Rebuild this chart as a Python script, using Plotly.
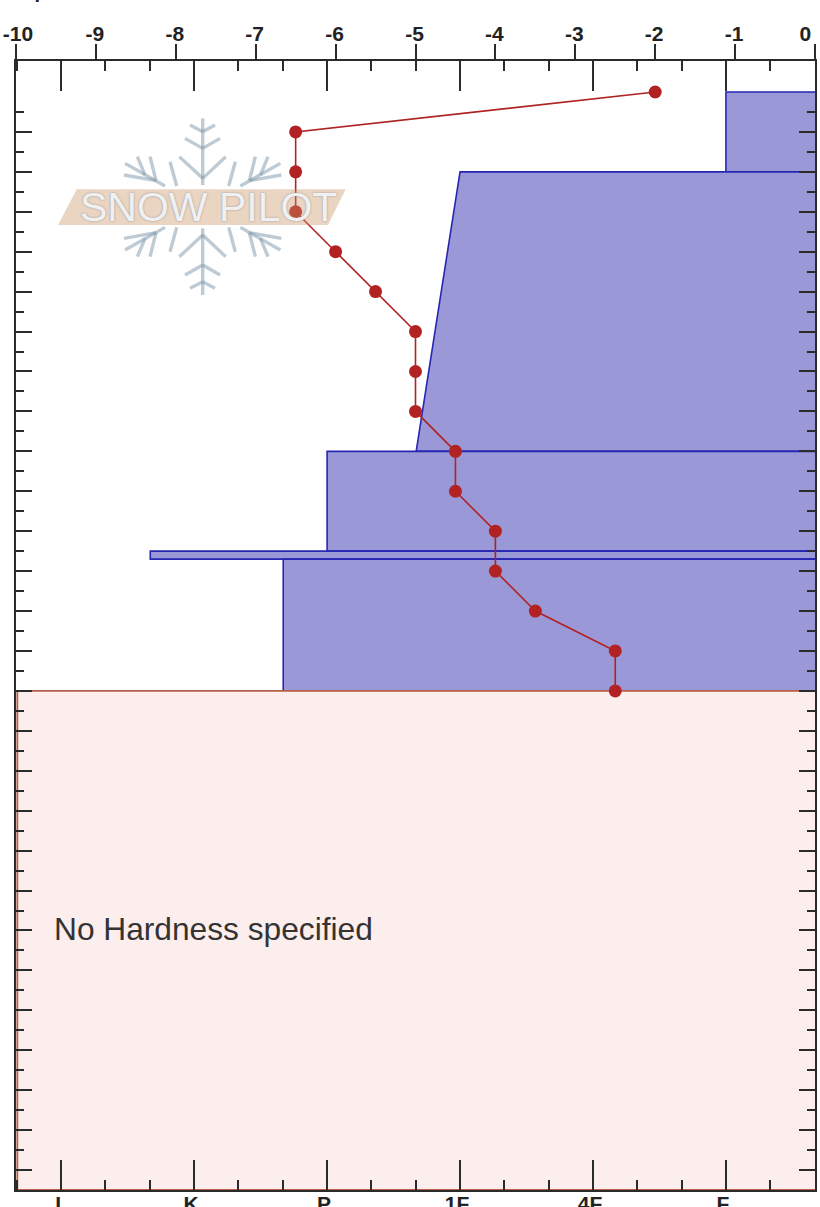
import plotly.graph_objects as go

# ---- data ----
temp_depth = [0, 10, 20, 30, 40, 50, 60, 70, 80, 90, 100, 110, 120, 130, 140, 150]
temp_value = [-2, -6.5, -6.5, -6.5, -6, -5.5, -5, -5, -5, -4.5, -4.5, -4, -4, -3.5, -2.5, -2.5]

layer_top = [0, 20, 90, 115, 117]
layer_bottom = [20, 90, 115, 117, 150]
layer_hard_top = [1.0, 3.0, 4.0, 5.33, 4.33]
layer_hard_bottom = [1.0, 3.33, 4.0, 5.33, 4.33]

hardness_vals = [1, 2, 3, 4, 5, 6]
hardness_text = ["F", "4F", "1F", "P", "K", "I"]
hardness_minor = [0.33, 0.67, 1.33, 1.67, 2.33, 2.67, 3.33, 3.67, 4.33, 4.67, 5.33, 5.67, 6.33]
temp_ticks = [-10, -9, -8, -7, -6, -5, -4, -3, -2, -1, 0]
temp_text = ["\u00a0-10", "-9", "-8", "-7", "-6", "-5", "-4", "-3", "-2", "-1", "0\u00a0\u00a0\u00a0"]
depth_major = [10 * i for i in range(1, 28)]
depth_minor = [5 + 10 * i for i in range(0, 27)]

unknown_top, unknown_bottom = 150, 275
unknown_left, unknown_right = 6.33, 0.30
note = "No Hardness specified"

W, H = 820, 1207
L, R, T, B = 16, 815, 61, 1190
def px(x): return (x - L) / (R - L)
def py(y): return (B - y) / (B - T)

FILL = "#9A98D6"; EDGE = "#2626B4"; RED = "#B22222"; AXIS = "#2b2b2b"
FONT = "Liberation Sans"

fig = go.Figure()

for t, b, a, c in zip(layer_top, layer_bottom, layer_hard_top, layer_hard_bottom):
    fig.add_trace(go.Scatter(
        x=[unknown_right, a, c, unknown_right, unknown_right],
        y=[t, t, b, b, t], xaxis="x", yaxis="y", mode="lines",
        fill="toself", fillcolor=FILL, line=dict(color=EDGE, width=1.6),
        hoverinfo="skip", showlegend=False))

fig.add_trace(go.Scatter(
    x=[unknown_right, unknown_left, unknown_left, unknown_right, unknown_right],
    y=[unknown_top, unknown_top, unknown_bottom, unknown_bottom, unknown_top],
    xaxis="x", yaxis="y", mode="lines", fill="toself", fillcolor="#FDEEEE",
    line=dict(color="#B5604A", width=1.8), hoverinfo="skip", showlegend=False))

fig.add_trace(go.Scatter(
    x=temp_value, y=temp_depth, xaxis="x2", yaxis="y", mode="lines+markers",
    line=dict(color=RED, width=1.6), marker=dict(color=RED, size=13),
    hoverinfo="skip", showlegend=False))

# ---- watermark logo (decoration, page pixels) ----
CX, CY = 202.7, 206.7
def zx(v): return (v - 458) / 3
def zy(v): return (v - 290) / 3
upper = [
    (458, 225, 458, 25), (458, 205, 388, 140), (458, 205, 527, 140),
    (458, 115, 405, 85), (458, 115, 510, 85), (458, 65, 420, 45), (458, 65, 495, 45),
]
side = [
    (345, 228, 225, 160), (318, 212, 300, 140), (285, 195, 262, 140),
    (318, 212, 222, 195), (360, 155, 380, 228),
]
segs = []
for x0, y0, x1, y1 in upper:
    for sy in (1, -1):
        segs.append((zx(x0), sy * zy(y0), zx(x1), sy * zy(y1)))
for x0, y0, x1, y1 in side:
    for sx in (1, -1):
        for sy in (1, -1):
            segs.append((sx * zx(x0), sy * zy(y0), sx * zx(x1), sy * zy(y1)))
shapes = []
for x0, y0, x1, y1 in segs:
    shapes.append(dict(type="line", xref="paper", yref="paper", layer="above",
                       x0=px(CX + x0), y0=py(CY + y0), x1=px(CX + x1), y1=py(CY + y1),
                       line=dict(color="rgba(130,155,172,0.52)", width=3.4)))
band = [(76.7, 189.3), (345.7, 189.3), (328, 225), (58, 225)]
path = "M " + " L ".join(f"{px(a):.5f} {py(b):.5f}" for a, b in band) + " Z"
shapes.append(dict(type="path", xref="paper", yref="paper", layer="above", path=path,
                   fillcolor="rgba(202,147,102,0.4)", line=dict(width=0)))

annotations = [
    dict(text=note, xref="x2", yref="y", x=-9.55, y=209.6, xanchor="left", yanchor="middle",
         showarrow=False, font=dict(family=FONT, size=31.7, color="#333333")),
    dict(text="SNOW PILOT", xref="paper", yref="paper", x=px(208.5), y=py(207), xanchor="center",
         yanchor="middle", showarrow=False,
         font=dict(family=FONT, size=41, color="rgba(248,250,252,0.92)", shadow="0 0 2px #8a8a8a")),
    dict(text="Depth", xref="paper", yref="paper", x=px(8), y=py(3), xanchor="left", yanchor="bottom",
         showarrow=False, borderpad=0, font=dict(family=FONT, size=20, color="#222222", weight=700)),
]

common = dict(showline=True, linecolor=AXIS, linewidth=2, showgrid=False, zeroline=False,
              automargin=False, ticklabeloverflow="allow")
fig.update_layout(
    template=None,
    width=W, height=H, margin=dict(l=L, r=W - R, t=T, b=H - B, pad=0, autoexpand=False),
    paper_bgcolor="white", plot_bgcolor="white", showlegend=False,
    shapes=shapes, annotations=annotations,
    xaxis=dict(range=[6.34, 0.33], side="bottom", anchor="y", mirror="ticks",
               tickmode="array", tickvals=hardness_vals, ticktext=hardness_text,
               ticks="inside", ticklen=30, tickwidth=2, tickcolor=AXIS, ticklabelshift=3,
               ticklabelstandoff=-6,
               tickfont=dict(family=FONT, size=21, color="#222222", weight=700),
               minor=dict(tickmode="array", tickvals=hardness_minor, ticks="inside",
                          ticklen=10, tickwidth=2, tickcolor=AXIS), **common),
    xaxis2=dict(range=[-10, 0], side="top", anchor="y", overlaying="x", tickmode="array",
                tickvals=temp_ticks, ticktext=temp_text,
                ticks="outside", ticklen=15, tickwidth=2, tickcolor=AXIS, ticklabelshift=-1,
                ticklabelstandoff=-5,
                tickfont=dict(family=FONT, size=21, color="#222222", weight=700), **common),
    yaxis=dict(range=[275, -7.76], mirror="ticks", tickmode="array", tickvals=depth_major,
               ticks="inside", ticklen=16, tickwidth=2, tickcolor=AXIS, showticklabels=False,
               minor=dict(tickmode="array", tickvals=depth_minor, ticks="inside",
                          ticklen=8, tickwidth=2, tickcolor=AXIS), **common),
)

fig.write_html("out.html", config=dict(displayModeBar=False),
               post_script="document.body.style.margin='0';")
